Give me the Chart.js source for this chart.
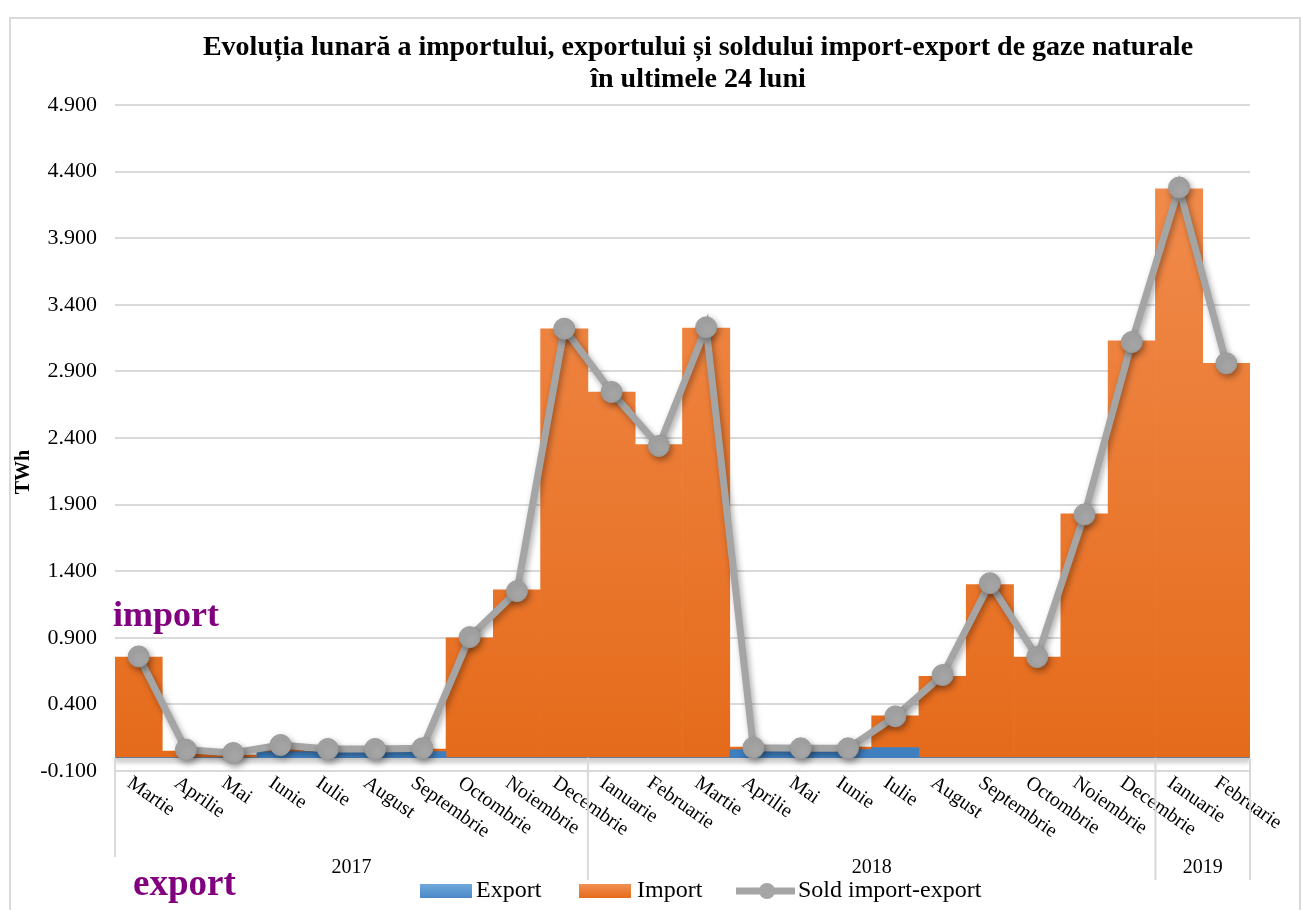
<!DOCTYPE html>
<html>
<head>
<meta charset="utf-8">
<script src="https://cdn.jsdelivr.net/npm/chart.js@4.4.1/dist/chart.umd.min.js"></script>
<style>
  html, body { margin: 0; padding: 0; background: #fff; }
  #wrap { width: 1303px; height: 910px; }
</style>
</head>
<body>
<div id="wrap"><canvas id="myChart" width="1303" height="910"></canvas></div>
<script>
// date (TWh)
var luni = ['Martie', 'Aprilie', 'Mai', 'Iunie', 'Iulie', 'August', 'Septembrie', 'Octombrie', 'Noiembrie', 'Decembrie',
            'Ianuarie', 'Februarie', 'Martie', 'Aprilie', 'Mai', 'Iunie', 'Iulie', 'August', 'Septembrie', 'Octombrie', 'Noiembrie', 'Decembrie',
            'Ianuarie', 'Februarie'];
var ani = ['2017', '2018', '2019'];
var luniPeAn = [10, 12, 2];

var exportVal = [0, 0, 0, 0.045, 0.045, 0.045, 0.045, 0, 0, 0,
                 0, 0, 0, 0.06, 0.06, 0.06, 0.075, 0, 0, 0, 0, 0,
                 0, 0];
var importVal = [0.755, 0.05, 0.02, 0.025, 0.005, 0.005, 0.02, 0.90, 1.26, 3.22,
                 2.745, 2.35, 3.225, 0.02, 0.005, 0.02, 0.24, 0.61, 1.30, 0.755, 1.83, 3.13,
                 4.27, 2.96];
var soldVal = [0.76, 0.06, 0.035, 0.095, 0.065, 0.065, 0.07, 0.905, 1.25, 3.22,
               2.745, 2.34, 3.23, 0.075, 0.07, 0.07, 0.31, 0.62, 1.31, 0.755, 1.825, 3.12,
               4.28, 2.96];

var yTicks = { min: -0.1, max: 4.9, step: 0.5 };

var titlu = ['Evoluția lunară a importului, exportului și soldului import-export de gaze naturale', 'în ultimele 24 luni'];

var serif = "'Liberation Serif', 'Times New Roman', serif";

function gradient(ctx, top, bottom) {
    var chart = ctx.chart;
    var ca = chart.chartArea;
    if (!ca) return bottom;
    var y0 = chart.scales.y.getPixelForValue(0);
    var g = chart.ctx.createLinearGradient(0, ca.top, 0, y0);
    g.addColorStop(0, top);
    g.addColorStop(1, bottom);
    return g;
}

var decor = {
    id: 'decor',
    beforeDraw: function (chart) {
        var c = chart.ctx;
        c.save();
        c.fillStyle = '#ffffff';
        c.fillRect(0, 0, chart.width, chart.height);
        c.strokeStyle = '#d9d9d9';
        c.lineWidth = 2;
        c.strokeRect(10, 18, 1290, 900);
        c.restore();
    },
    beforeDatasetsDraw: function (chart) {
        var c = chart.ctx;
        var ca = chart.chartArea;
        var y0 = chart.scales.y.getPixelForValue(0);
        c.save();
        c.strokeStyle = '#d0d0d0';
        c.lineWidth = 3;
        c.shadowColor = 'rgba(0,0,0,0.3)';
        c.shadowBlur = 4;
        c.shadowOffsetY = 2;
        c.beginPath();
        c.moveTo(ca.left, y0 + 1);
        c.lineTo(ca.right, y0 + 1);
        c.stroke();
        c.restore();
    },
    beforeDatasetDraw: function (chart, args) {
        if (args.meta.type === 'line') {
            var c = chart.ctx;
            c.save();
            c.shadowColor = 'rgba(0,0,0,0.35)';
            c.shadowBlur = 6;
            c.shadowOffsetX = 2;
            c.shadowOffsetY = 3;
        }
    },
    afterDatasetDraw: function (chart, args) {
        if (args.meta.type === 'line') {
            chart.ctx.restore();
        }
    },
    afterDraw: function (chart) {
        var c = chart.ctx;
        var x = chart.scales.x;
        var ca = chart.chartArea;
        var y0 = chart.scales.y.getPixelForValue(0);
        var w = (ca.right - ca.left) / luni.length;
        c.save();

        // titlu
        c.fillStyle = '#000';
        c.font = 'bold 28px ' + serif;
        c.textAlign = 'center';
        c.textBaseline = 'middle';
        c.fillText(titlu[0], 698, 48);
        c.fillText(titlu[1], 698, 80);

        // titlul axei Y
        c.save();
        c.font = 'bold 20px ' + serif;
        c.translate(24, 472);
        c.rotate(-Math.PI / 2);
        c.fillText('TWh', 0, 0);
        c.restore();

        // etichete luni, rotite
        c.font = '20px ' + serif;
        c.textAlign = 'left';
        c.textBaseline = 'top';
        luni.forEach(function (l, i) {
            var px = x.getPixelForValue(i);
            c.save();
            c.translate(px - 4, ca.bottom + 2);
            c.rotate(35 * Math.PI / 180);
            c.fillText(l, 0, 0);
            c.restore();
        });

        // separatoare ani + etichete ani
        c.strokeStyle = '#d9d9d9';
        c.lineWidth = 2;
        var start = 0;
        var xs = [ca.left];
        luniPeAn.forEach(function (n, k) {
            var a = x.getPixelForValue(start) - w / 2;
            var b = x.getPixelForValue(start + n - 1) + w / 2;
            xs.push(b);
            c.textAlign = 'center';
            c.textBaseline = 'middle';
            c.fillText(ani[k], (a + b) / 2, 868);
            start += n;
        });
        xs.forEach(function (px, k) {
            c.beginPath();
            c.moveTo(px, y0);
            c.lineTo(px, k === 0 ? 857 : 880);
            c.stroke();
        });

        // legenda
        c.font = '24px ' + serif;
        c.textAlign = 'left';
        c.textBaseline = 'middle';
        var ly = 891;
        var g1 = c.createLinearGradient(0, ly - 7, 0, ly + 7);
        g1.addColorStop(0, '#6fa8dc');
        g1.addColorStop(1, '#4a88c6');
        c.fillStyle = g1;
        c.fillRect(420, ly - 7, 52, 14);
        c.fillStyle = '#000';
        c.fillText('Export', 476, ly);
        var g2 = c.createLinearGradient(0, ly - 7, 0, ly + 7);
        g2.addColorStop(0, '#f28f52');
        g2.addColorStop(1, '#e56b1b');
        c.fillStyle = g2;
        c.fillRect(579, ly - 7, 52, 14);
        c.fillStyle = '#000';
        c.fillText('Import', 637, ly);
        c.strokeStyle = '#a5a5a5';
        c.lineWidth = 7;
        c.beginPath();
        c.moveTo(736, ly);
        c.lineTo(795, ly);
        c.stroke();
        c.fillStyle = '#a5a5a5';
        c.beginPath();
        c.arc(767, ly, 8, 0, Math.PI * 2);
        c.fill();
        c.fillStyle = '#000';
        c.fillText('Sold import-export', 798, ly);

        // texte import / export
        c.fillStyle = '#800080';
        c.font = 'bold 36px ' + serif;
        c.textBaseline = 'alphabetic';
        c.fillText('import', 113, 626);
        c.font = 'bold 37px ' + serif;
        c.fillText('export', 133, 895);
        c.restore();
    }
};

const ctx = document.getElementById('myChart').getContext('2d');
const myChart = new Chart(ctx, {
    type: 'bar',
    data: {
        labels: luni,
        datasets: [{
            label: 'Export',
            data: exportVal,
            order: 1,
            backgroundColor: function (c) { return gradient(c, '#6fa8dc', '#3f7fbf'); },
            categoryPercentage: 1,
            barPercentage: 1
        }, {
            label: 'Import',
            data: importVal,
            order: 1,
            backgroundColor: function (c) { return gradient(c, '#f28f52', '#e56b1b'); },
            categoryPercentage: 1,
            barPercentage: 1
        }, {
            type: 'line',
            label: 'Sold import-export',
            data: soldVal,
            order: 0,
            borderColor: '#a5a5a5',
            borderWidth: 7,
            pointRadius: 10.5,
            pointBackgroundColor: '#a5a5a5',
            pointBorderColor: '#9a9a9a',
            pointBorderWidth: 1,
            tension: 0
        }]
    },
    options: {
        responsive: false,
        animation: false,
        layout: { padding: { left: 10, right: 53, top: 105, bottom: 0 } },
        plugins: {
            legend: { display: false },
            tooltip: { enabled: false },
            title: { display: false }
        },
        scales: {
            x: {
                stacked: true,
                offset: true,
                grid: { display: false },
                border: { display: false },
                ticks: { display: false },
                afterFit: function (s) { s.height = 139; }
            },
            y: {
                stacked: true,
                min: yTicks.min,
                max: yTicks.max,
                grid: { color: '#d9d9d9', lineWidth: 2, drawTicks: false },
                border: { display: false },
                ticks: {
                    stepSize: yTicks.step,
                    padding: 18,
                    color: '#000',
                    font: { family: serif, size: 22 },
                    callback: function (v) { return v.toFixed(3); }
                },
                afterFit: function (s) { s.width = 105; }
            }
        }
    },
    plugins: [decor]
});
</script>
</body>
</html>
